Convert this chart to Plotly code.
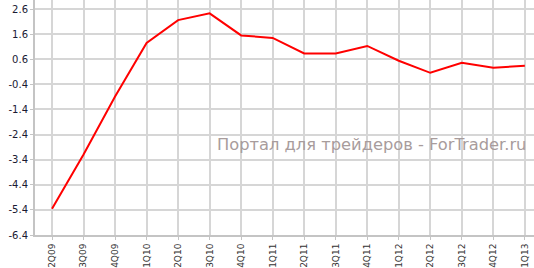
import plotly.graph_objects as go

quarters = ["2Q09", "3Q09", "4Q09", "1Q10", "2Q10", "3Q10", "4Q10", "1Q11",
            "2Q11", "3Q11", "4Q11", "1Q12", "2Q12", "3Q12", "4Q12", "1Q13"]
values = [-5.35, -3.19, -0.88, 1.25, 2.16, 2.43, 1.55, 1.45,
          0.83, 0.83, 1.13, 0.54, 0.06, 0.46, 0.26, 0.34]
ytick_vals = [-6.4, -5.4, -4.4, -3.4, -2.4, -1.4, -0.4, 0.6, 1.6, 2.6]
ytick_text = ["-6.4", "-5.4", "-4.4", "-3.4", "-2.4", "-1.4", "-0.4", "0.6", "1.6", "2.6"]
watermark = "Портал для трейдеров - ForTrader.ru"

fig = go.Figure()
fig.add_trace(go.Scatter(
    x=list(range(len(quarters))), y=values, mode="lines",
    line=dict(color="#ff0000", width=2), hoverinfo="skip"))

fig.update_layout(
    width=534, height=268,
    margin=dict(l=35, r=0, t=0, b=33),
    paper_bgcolor="white", plot_bgcolor="white",
    showlegend=False,
    font=dict(family="DejaVu Sans", size=10, color="#222"),
    xaxis=dict(
        range=[-0.54, 15.29],
        tickvals=list(range(len(quarters))), ticktext=quarters,
        tickangle=-90, tickfont=dict(size=9, color="#333"),
        showgrid=True, gridcolor="#d6d6d6", gridwidth=1.5,
        showline=True, linecolor="#c4c4c4", linewidth=2,
        ticks="outside", ticklen=3, tickcolor="#c4c4c4",
        zeroline=False, fixedrange=True),
    yaxis=dict(
        range=[-6.4, 2.96],
        tickvals=ytick_vals, ticktext=ytick_text,
        tickfont=dict(size=10, color="#1a1a33"),
        showgrid=True, gridcolor="#d6d6d6", gridwidth=1.5,
        showline=True, linecolor="#c4c4c4", linewidth=2,
        ticks="outside", ticklen=3, tickcolor="#c4c4c4",
        zeroline=False, fixedrange=True),
    annotations=[dict(
        text=watermark, xref="paper", yref="paper",
        x=0.987, y=0.383, xanchor="right", yanchor="middle",
        showarrow=False,
        font=dict(family="DejaVu Sans", size=16.3, color="#a89c9c"))],
)

fig.write_html("out.html")
